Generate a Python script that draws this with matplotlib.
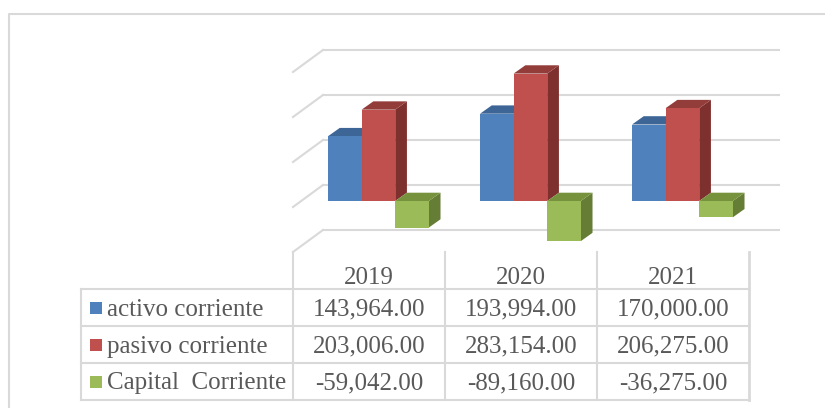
import matplotlib
matplotlib.use("Agg")
import matplotlib.pyplot as plt
from matplotlib.patches import Polygon, Rectangle
from matplotlib.lines import Line2D
from matplotlib.transforms import IdentityTransform

# ---- data ----
years = ["2019", "2020", "2021"]
series_names = ["activo corriente", "pasivo corriente", "Capital  Corriente"]
activo = [143964.00, 193994.00, 170000.00]
pasivo = [203006.00, 283154.00, 206275.00]
capital = [-59042.00, -89160.00, -36275.00]
grid_values = [-100000, 0, 100000, 200000, 300000]

series = [activo, pasivo, capital]
front_colors = ["#4F81BD", "#C0504D", "#9BBB59"]
top_colors = ["#3D6697", "#933D3B", "#76923C"]
side_colors = ["#375C89", "#7D302E", "#657D35"]

W, H = 825, 408
fig = plt.figure(figsize=(W / 100, H / 100), dpi=100)
fig.patch.set_facecolor("white")

ax = fig.add_axes([302.5 / W, (H - 268.5) / H, 456 / W, 225 / H])
ax.set_xlim(0, 3)
ax.set_ylim(-150000, 350000)
ax.axis("off")

ID = IdentityTransform()
grid_color = "#D9D9D9"
text_color = "#595959"
font = "Liberation Serif"

# depth offsets in pixels (display coords, y up)
BACK = (20.5, 16.0)
FRONT = (-9.5, -6.0)
BAR_D = (11.7, 8.3)


def disp(x, y):
    return ax.transData.transform((x, y))


# outer chart border
fig.add_artist(Line2D([9, 9, W + 5], [-5, H - 14, H - 14], transform=ID,
                      color=grid_color, lw=1.5))

# back wall gridlines and side wall diagonals
for v in grid_values:
    p0 = disp(0, v)
    p1 = disp(3, v)
    ax.add_line(Line2D([p0[0] + BACK[0], p1[0] + BACK[0]],
                       [p0[1] + BACK[1], p1[1] + BACK[1]],
                       transform=ID, color=grid_color, lw=1.5, clip_on=False, zorder=1))
    ax.add_line(Line2D([p0[0] + FRONT[0], p0[0] + BACK[0]],
                       [p0[1] + FRONT[1], p0[1] + BACK[1]],
                       transform=ID, color=grid_color, lw=1.5, clip_on=False, zorder=1))

# 3D bars
bar_w = 0.221
offset0 = 0.168
z = 2.0
for i in range(len(years)):
    for j, vals in enumerate(series):
        v = vals[i]
        left = i + offset0 + j * bar_w
        right = left + bar_w
        top = max(v, 0)
        bot = min(v, 0)
        dx, dy = BAR_D
        tl = disp(left, top)
        tr = disp(right, top)
        br = disp(right, bot)
        side = Polygon([tr, br, (br[0] + dx, br[1] + dy), (tr[0] + dx, tr[1] + dy)],
                       closed=True, transform=ID, facecolor=side_colors[j],
                       edgecolor="none", clip_on=False, zorder=z)
        topf = Polygon([tl, tr, (tr[0] + dx, tr[1] + dy), (tl[0] + dx, tl[1] + dy)],
                       closed=True, transform=ID, facecolor=top_colors[j],
                       edgecolor="none", clip_on=False, zorder=z)
        ax.add_patch(side)
        ax.add_patch(topf)
        ax.bar([left], [v], width=bar_w, align="edge", color=front_colors[j],
               edgecolor="none", zorder=z + 0.05, clip_on=False)
        z += 0.1

# ---- data table ----
col_x = [disp(k, -100000)[0] + FRONT[0] for k in range(4)]
floor_y = disp(0, -100000)[1] + FRONT[1]  # display y (up)
row_h = 37
table_left = 81
rows_y = [floor_y - row_h * k for k in range(5)]  # header top, row tops..., bottom

lw_t = 1.5
# vertical column lines
for k, cx in enumerate(col_x):
    fig.add_artist(Line2D([cx, cx], [rows_y[0], rows_y[4]], transform=ID,
                          color=grid_color, lw=lw_t if k < 3 else 2.0))
# left edge
fig.add_artist(Line2D([table_left, table_left], [rows_y[1], rows_y[4]], transform=ID,
                      color=grid_color, lw=lw_t))
# horizontal lines
for k in range(1, 5):
    fig.add_artist(Line2D([table_left, col_x[3]], [rows_y[k], rows_y[k]], transform=ID,
                          color=grid_color, lw=lw_t))

fs = 18
# header
for i, yr in enumerate(years):
    cx = (col_x[i] + col_x[i + 1]) / 2
    fig.text(cx / W, (rows_y[0] - 32) / H, yr, ha="center", va="baseline",
             fontsize=fs, family=font, color=text_color)

# rows
for j, (name, vals) in enumerate(zip(series_names, series)):
    top_y = rows_y[j + 1]
    base = top_y - 26.5
    fig.add_artist(Rectangle((90, top_y - 24.5), 11.5, 11.5, transform=ID,
                             facecolor=front_colors[j], edgecolor="none"))
    fig.text(107 / W, base / H, name, ha="left", va="baseline",
             fontsize=fs, family=font, color=text_color)
    for i, v in enumerate(vals):
        cx = (col_x[i] + col_x[i + 1]) / 2
        fig.text(cx / W, base / H, f"{v:,.2f}", ha="center", va="baseline",
                 fontsize=fs, family=font, color=text_color)

fig.savefig("out.png", dpi=100)
